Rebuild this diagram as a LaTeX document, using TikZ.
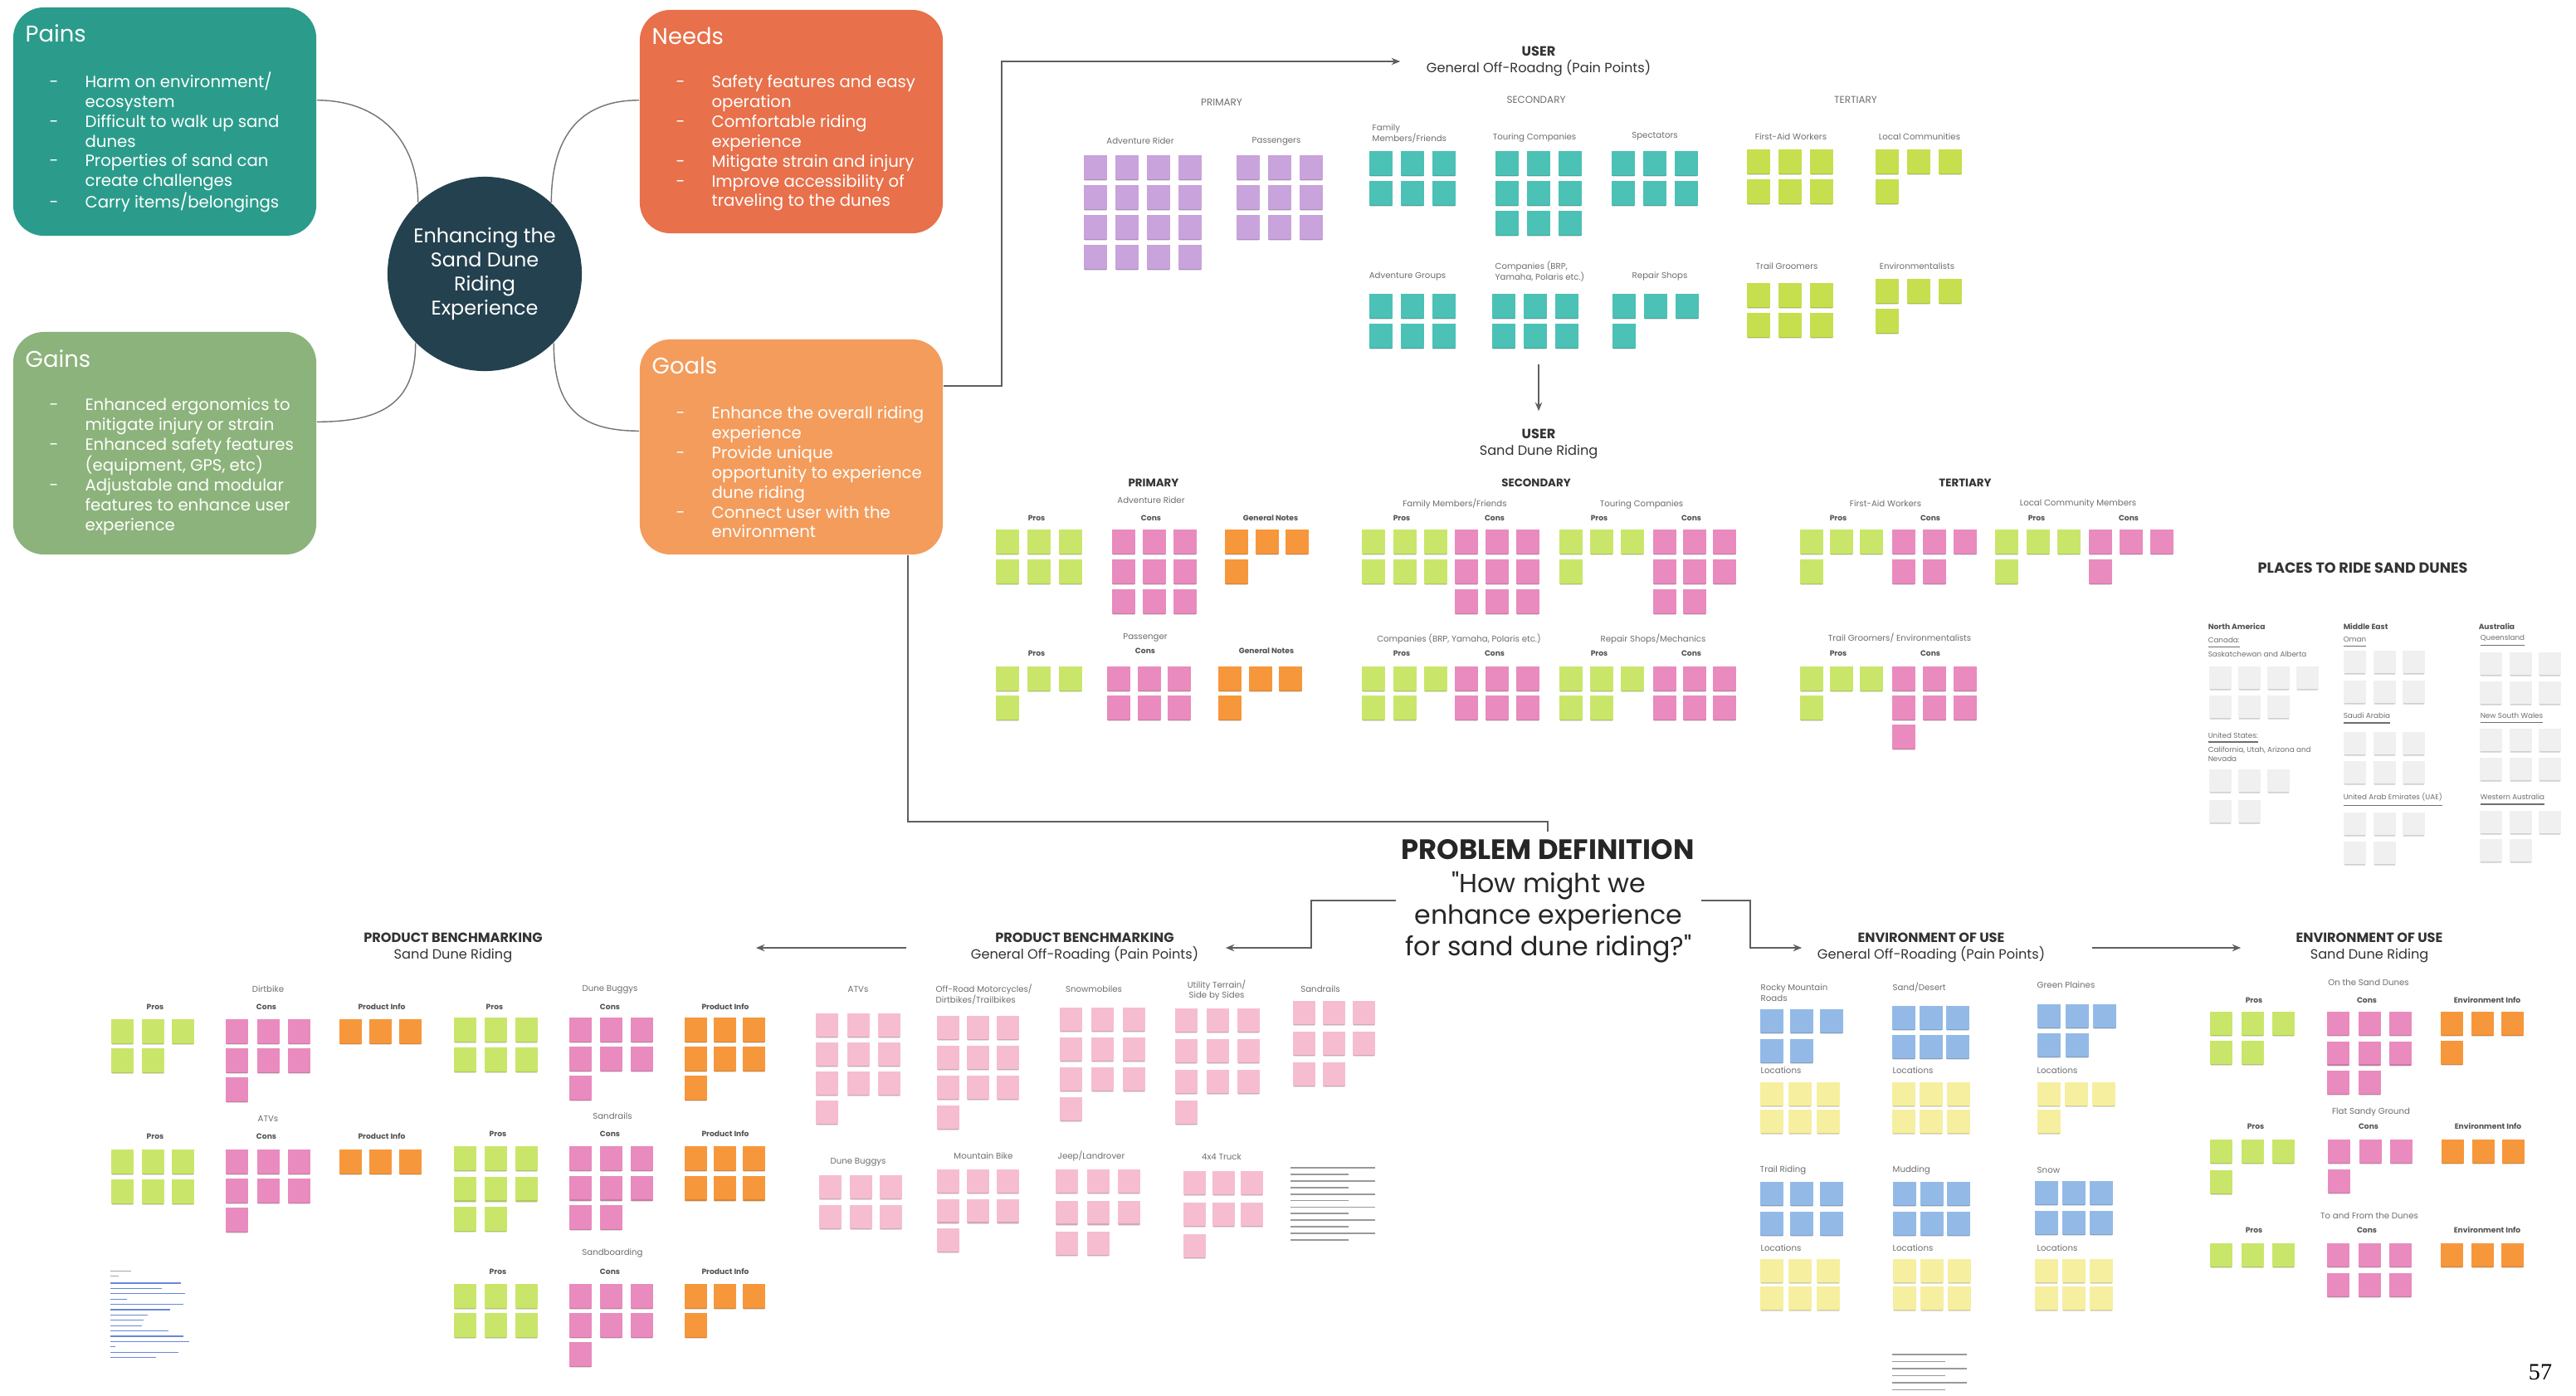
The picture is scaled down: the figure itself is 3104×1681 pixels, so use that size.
\documentclass[tikz,border=0pt]{standalone}
\usepackage{fontspec}
\setmainfont{Poppins}
\newfontfamily\numfont{Liberation Serif}
\usetikzlibrary{arrows.meta}
\newcommand\fs[2]{\fontsize{#1}{#2}\selectfont}
\newcommand\stkw{28}
\newcommand\stkh{30}
% sticky-note grid: x, y, row counts, fill style, column step, row step
\newcommand\stk[6]{%
  \foreach \nn [count=\rr from 0] in {#3}{%
    \foreach \cc in {1,...,\nn}{%
      \path[#4] ({#1+(\cc-1)*#5},{#2+\rr*#6}) rectangle ++(\stkw,\stkh);
      \path[fill=black,opacity=0.13] ({#1+(\cc-1)*#5+1},{#2+\rr*#6+\stkh-1.5}) rectangle ++(\stkw-2,2.5);
    }}}
\definecolor{cPains}{HTML}{2B9C8B}
\definecolor{cNeeds}{HTML}{E8704B}
\definecolor{cGoals}{HTML}{F39C5C}
\definecolor{cGains}{HTML}{8CB37B}
\definecolor{cHub}{HTML}{24414F}
\definecolor{nPurple}{HTML}{C9A3DB}
\definecolor{nTeal}{HTML}{4CC1B6}
\definecolor{nLime}{HTML}{C6DF4E}
\definecolor{nGreen}{HTML}{C9E66A}
\definecolor{nPink}{HTML}{E98BBE}
\definecolor{nLpink}{HTML}{F6BDD1}
\definecolor{nOrange}{HTML}{F7973B}
\definecolor{nBlue}{HTML}{93BAE7}
\definecolor{nYellow}{HTML}{F6EFA0}
\definecolor{nGray}{HTML}{F0F0F0}
\definecolor{cLine}{HTML}{5F5F5F}
\definecolor{tHead}{HTML}{333333}
\definecolor{tSub}{HTML}{6E6E6E}
\definecolor{cLink}{HTML}{6A88D8}
\begin{document}
\begin{tikzpicture}[x=0.01cm,y=-0.01cm,
  box/.style={rounded corners=10.5pt, inner sep=0, minimum width=3.65cm},
  btitle/.style={anchor=west, inner sep=0, text=white, font=\fs{7.8}{9}},
  blist/.style={anchor=north west, inner sep=0, text=white, font=\fs{5.6}{6.8}},
  curve/.style={draw=black!55, line width=0.4pt},
  ln/.style={draw=cLine, line width=0.45pt},
  arr/.style={ln, -{Stealth[length=3pt,width=2.4pt]}},
  hdr/.style={align=center, inner sep=0, text=tHead, font=\fs{4.6}{5.9}},
  lv/.style={font=\fs{3.4}{4}, text=tSub, inner sep=0},
  sb/.style={font=\fs{2.9}{3.6}, text=tSub, align=center, inner sep=0},
  sbl/.style={sb, anchor=west, align=left},
  lvb/.style={font=\bfseries\fs{3.8}{4.5}, text=tHead, inner sep=0},
  pc/.style={font=\bfseries\fs{2.6}{3}, text=tHead!85, inner sep=0},
  rg/.style={font=\bfseries\fs{2.6}{3}, text=tHead!85, inner sep=0, anchor=west},
  cty/.style={font=\fs{2.5}{3.2}, text=tSub, inner sep=0, anchor=west, align=left},
  gline/.style={draw=black!40, line width=0.5pt},
  link/.style={draw=cLink, line width=0.35pt}]
\useasboundingbox (0,0) rectangle (3104,1681);
\fill[white] (0,0) rectangle (3104,1681);

% ---------------- empathy boxes ----------------
\node[box, fill=cPains, minimum height=2.75cm] (pains) at (198.5,146.5) {};
\node[box, fill=cNeeds, minimum height=2.69cm] (needs) at (953.5,146.5) {};
\node[box, fill=cGains, minimum height=2.68cm] (gains) at (198.5,534) {};
\node[box, fill=cGoals, minimum height=2.59cm] (goals) at (953.5,538.5) {};
\node[btitle] (painsT) at (30,40) {Pains};
\node[btitle] (needsT) at (785,43) {Needs};
\node[btitle] (gainsT) at (30,432) {Gains};
\node[btitle] (goalsT) at (785,440) {Goals};
\node[blist] (painsL) at (59,86) {\begin{tabular}{@{}p{12.2pt}@{}l@{}}
-&Harm on environment/\\
&ecosystem\\
-&Difficult to walk up sand\\
&dunes\\
-&Properties of sand can\\
&create challenges\\
-&Carry items/belongings
\end{tabular}};
\node[blist] (needsL) at (814,88) {\begin{tabular}{@{}p{12.2pt}@{}l@{}}
-&Safety features and easy\\
&operation\\
-&Comfortable riding\\
&experience\\
-&Mitigate strain and injury\\
-&Improve accessibility of\\
&traveling to the dunes
\end{tabular}};
\node[blist] (gainsL) at (59,477) {\begin{tabular}{@{}p{12.2pt}@{}l@{}}
-&Enhanced ergonomics to\\
&mitigate injury or strain\\
-&Enhanced safety features\\
&(equipment, GPS, etc)\\
-&Adjustable and modular\\
&features to enhance user\\
&experience
\end{tabular}};
\node[blist] (goalsL) at (814,487) {\begin{tabular}{@{}p{12.2pt}@{}l@{}}
-&Enhance the overall riding\\
&experience\\
-&Provide unique\\
&opportunity to experience\\
&dune riding\\
-&Connect user with the\\
&environment
\end{tabular}};
\node[circle, fill=cHub, minimum size=2.34cm, inner sep=0, text=white, align=center, font=\fs{6.8}{8.2}] (hub) at (584,330) {Enhancing the\\Sand Dune\\Riding\\Experience};
\draw[curve] (pains.8.6) .. controls +(75,0) and +(0,-75) .. (hub.133);
\draw[curve] (needs.172) .. controls +(-75,0) and +(0,-75) .. (hub.47);
\draw[curve] (gains.8) .. controls +(75,0) and +(0,75) .. (hub.225);
\draw[curve] (goals.174) .. controls +(-75,0) and +(0,75) .. (hub.315);

% ---------------- USER: general off-roading ----------------
\node[hdr, font=\fs{4.6}{5.7}, minimum width=3.32cm] (u1) at (1854,74) {\textbf{USER}\\General Off-Roadng (Pain Points)};
\node[lv] (tPri) at (1472,123) {PRIMARY};
\node[lv] (tSec) at (1851,120) {SECONDARY};
\node[lv] (tTer) at (2236,120) {TERTIARY};
\node[sb] (tAR) at (1374,170) {Adventure Rider};
\node[sb] (tPa) at (1538,170) {Passengers};
\node[sbl] (tFa) at (1653,161) {Family\\Members/Friends};
\node[sb] (tTo) at (1849,166) {Touring Companies};
\node[sb] (tSp) at (1994,164) {Spectators};
\node[sb] (tFA) at (2158,165) {First-Aid Workers};
\node[sb] (tLC) at (2313,165) {Local Communities};
\node[sb] (tAG) at (1696,333) {Adventure Groups};
\node[sbl] (tCo) at (1801,327) {Companies (BRP,\\Yamaha, Polaris etc.)};
\node[sb] (tRS) at (2000,333) {Repair Shops};
\node[sb] (tTG) at (2153,321) {Trail Groomers};
\node[sb] (tEn) at (2310,321) {Environmentalists};
\renewcommand\stkw{28}\renewcommand\stkh{30}
\stk{1306}{187}{4,4,4,4}{fill=nPurple}{38}{36}
\stk{1490}{187}{3,3,3}{fill=nPurple}{38}{36}
\stk{1650}{182}{3,3}{fill=nTeal}{38}{36}
\stk{1802}{182}{3,3,3}{fill=nTeal}{38}{36}
\stk{1942}{182}{3,3}{fill=nTeal}{38}{36}
\stk{1650}{354}{3,3}{fill=nTeal}{38}{36}
\stk{1798}{354}{3,3}{fill=nTeal}{38}{36}
\stk{1943}{354}{3,1}{fill=nTeal}{38}{36}
\stk{2105}{180}{3,3}{fill=nLime}{38}{36}
\stk{2260}{180}{3,1}{fill=nLime}{38}{36}
\stk{2105}{341}{3,3}{fill=nLime}{38}{36}
\stk{2260}{336}{3,1}{fill=nLime}{38}{36}

% ---------------- USER: sand dune riding ----------------
\coordinate (usec) at (1854,439);
\node[hdr, font=\fs{4.6}{5.7}, minimum height=0.78cm] (u2) at (1854,535) {\textbf{USER}\\Sand Dune Riding};
\node[lvb] (sPri) at (1390,582) {PRIMARY};
\node[lvb] (sSec) at (1851,582) {SECONDARY};
\node[lvb] (sTer) at (2368,582) {TERTIARY};
\node[sb] (sAR) at (1387,603) {Adventure Rider};
\node[sb] (sFa) at (1753,607) {Family Members/Friends};
\node[sb] (sTo) at (1978,608) {Touring Companies};
\node[sb] (sFA) at (2272,607) {First-Aid Workers};
\node[sb] (sLC) at (2504,607) {Local Community Members};
\node[sb] (sPa) at (1380,768) {Passenger};
\node[sb] (sCo) at (1758,770) {Companies (BRP, Yamaha, Polaris etc.)};
\node[sb] (sRS) at (1992,770) {Repair Shops/Mechanics};
\node[sb] (sTG) at (2289,769) {Trail Groomers/ Environmentalists};
\foreach \x/\y/\t [count=\i] in {1249/624/Pros,1387/624/Cons,1531/624/General Notes,1689/624/Pros,1801/624/Cons,1927/624/Pros,2038/624/Cons,2215/624/Pros,2326/624/Cons,2454/624/Pros,2565/624/Cons,1249/787/Pros,1380/784/Cons,1526/784/General Notes,1689/787/Pros,1801/787/Cons,1927/787/Pros,2038/787/Cons,2215/787/Pros,2326/787/Cons}
  \node[pc] (pcA\i) at (\x,\y) {\t};
\stk{1200}{638}{3,3}{fill=nGreen}{38}{36}
\stk{1340}{638}{3,3,3}{fill=nPink}{37}{36}
\stk{1476}{638}{3,1}{fill=nOrange}{36.5}{36}
\stk{1641}{638}{3,3}{fill=nGreen}{37.5}{36}
\stk{1753}{638}{3,3,3}{fill=nPink}{37}{36}
\stk{1879}{638}{3,1}{fill=nGreen}{37}{36}
\stk{1992}{638}{3,3,2}{fill=nPink}{36}{36}
\stk{2169}{638}{3,1}{fill=nGreen}{36}{36}
\stk{2280}{638}{3,2}{fill=nPink}{37}{36}
\stk{2404}{638}{3,1}{fill=nGreen}{37.5}{36}
\stk{2517}{638}{3,1}{fill=nPink}{37}{36}
\stk{1200}{803}{3,1}{fill=nGreen}{38}{35}
\stk{1334}{803}{3,3}{fill=nPink}{36.5}{35}
\stk{1468}{803}{3,1}{fill=nOrange}{36.5}{35}
\stk{1641}{803}{3,2}{fill=nGreen}{37.5}{35}
\stk{1753}{803}{3,3}{fill=nPink}{37}{35}
\stk{1879}{803}{3,2}{fill=nGreen}{37}{35}
\stk{1992}{803}{3,3}{fill=nPink}{36}{35}
\stk{2169}{803}{3,1}{fill=nGreen}{36}{35}
\stk{2280}{803}{3,3,1}{fill=nPink}{37}{35}

% ---------------- PLACES TO RIDE SAND DUNES ----------------
\node[font=\bfseries\fs{5}{6}, text=tHead, inner sep=0] (plc) at (2847,684) {PLACES TO RIDE SAND DUNES};
\node[rg] (rNA) at (2660,755) {North America};
\node[rg] (rME) at (2823,755) {Middle East};
\node[rg] (rAU) at (2986,755) {Australia};
\node[cty] (cCa) at (2660,780) {\underline{Canada:}\\Saskatchewan and Alberta};
\node[cty] (cUS) at (2660,900) {\underline{United States:}\\California, Utah, Arizona and\\Nevada};
\node[cty] (cOm) at (2823,774) {\underline{Oman}};
\node[cty] (cSA) at (2823,866) {\underline{Saudi Arabia}};
\node[cty] (cUA) at (2823,964) {\underline{United Arab Emirates (UAE)}};
\node[cty] (cQu) at (2988,772) {\underline{Queensland}};
\node[cty] (cNS) at (2988,866) {\underline{New South Wales}};
\node[cty] (cWA) at (2988,964) {\underline{Western Australia}};
\renewcommand\stkw{27}\renewcommand\stkh{28}
\stk{2662}{803}{4,3}{fill=nGray}{35}{35}
\stk{2662}{927}{3,2}{fill=nGray}{35}{37}
\stk{2824}{784}{3,3}{fill=nGray}{35.5}{36}
\stk{2824}{882}{3,3}{fill=nGray}{35.5}{35}
\stk{2824}{979}{3,2}{fill=nGray}{35.5}{35}
\stk{2988}{786}{3,3}{fill=nGray}{35.5}{35}
\stk{2988}{878}{3,3}{fill=nGray}{35.5}{35}
\stk{2988}{977}{3,2}{fill=nGray}{35.5}{34}

% ---------------- PROBLEM DEFINITION ----------------
\node[font=\bfseries\fs{9.6}{11}, text=black!85, minimum height=0.42cm, inner sep=0] (pdt) at (1865,1024) {PROBLEM DEFINITION};
\node[align=center, font=\fs{9}{10.8}, text=black!85, minimum width=3.66cm, inner sep=0] (pdq) at (1866,1105) {\textquotedbl How might we\\enhance experience\\for sand dune riding?\textquotedbl};

% ---------------- PRODUCT BENCHMARKING: general ----------------
\node[hdr, minimum width=3.38cm] (pb1) at (1307,1142) {\textbf{PRODUCT BENCHMARKING}\\General Off-Roading (Pain Points)};
\node[sb] (gAT) at (1034,1192) {ATVs};
\node[sbl] (gOR) at (1127,1198) {Off-Road Motorcycles/\\Dirtbikes/Trailbikes};
\node[sb] (gSn) at (1318,1192) {Snowmobiles};
\node[sb] (gUT) at (1466,1193) {Utility Terrain/\\Side by Sides};
\node[sb] (gSR) at (1591,1192) {Sandrails};
\node[sb] (gDB) at (1034,1400) {Dune Buggys};
\node[sb] (gMB) at (1185,1393) {Mountain Bike};
\node[sb] (gJL) at (1315,1393) {Jeep/Landrover};
\node[sb] (gTr) at (1472,1394) {4x4 Truck};
\renewcommand\stkw{27}\renewcommand\stkh{29}
\stk{983}{1221}{3,3,3,1}{fill=nLpink}{37.5}{35}
\stk{1129}{1224}{3,3,3,1}{fill=nLpink}{36}{36}
\stk{1277}{1214}{3,3,3,1}{fill=nLpink}{38}{36}
\stk{1416}{1215}{3,3,3,1}{fill=nLpink}{37.5}{37}
\stk{1558}{1206}{3,3,2}{fill=nLpink}{36}{37}
\stk{987}{1416}{3,3}{fill=nLpink}{36.5}{36}
\stk{1129}{1409}{3,3,1}{fill=nLpink}{36}{35.5}
\stk{1272}{1409}{3,3,2}{fill=nLpink}{37.5}{37.5}
\stk{1426}{1411}{3,3,1}{fill=nLpink}{34.5}{38}
\foreach \k in {0,...,11}
  \draw[gline] (1555,{1407+\k*7.9}) -- ++({ifthenelse(mod(\k,2)==0,102,70)},0);

% ---------------- PRODUCT BENCHMARKING: sand dune ----------------
\node[hdr, minimum width=7.28cm] (pb2) at (546,1142) {\textbf{PRODUCT BENCHMARKING}\\Sand Dune Riding};
\node[sb] (bDi) at (323,1192) {Dirtbike};
\node[sb] (bDB) at (735,1192) {Dune Buggys};
\node[sb] (bAT) at (323,1348) {ATVs};
\node[sb] (bSR) at (738,1345) {Sandrails};
\node[sb] (bSB) at (738,1510) {Sandboarding};
\foreach \x/\y/\t [count=\i] in {187/1213/Pros,321/1213/Cons,460/1213/Product Info,596/1213/Pros,735/1213/Cons,874/1213/Product Info,187/1369/Pros,321/1369/Cons,460/1369/Product Info,600/1366/Pros,735/1366/Cons,874/1366/Product Info,600/1532/Pros,735/1532/Cons,874/1532/Product Info}
  \node[pc] (pcB\i) at (\x,\y) {\t};
\renewcommand\stkw{27}\renewcommand\stkh{30}
\stk{134}{1228}{3,2}{fill=nGreen}{36.5}{35}
\stk{272}{1228}{3,3,1}{fill=nPink}{37.5}{35}
\stk{409}{1228}{3}{fill=nOrange}{36}{35}
\stk{547}{1226}{3,3}{fill=nGreen}{37}{36}
\stk{686}{1226}{3,3,1}{fill=nPink}{37}{35}
\stk{825}{1226}{3,3,1}{fill=nOrange}{35}{35}
\stk{134}{1385}{3,3}{fill=nGreen}{36.5}{36}
\stk{272}{1385}{3,3,1}{fill=nPink}{37.5}{35}
\stk{409}{1385}{3}{fill=nOrange}{36}{35}
\stk{547}{1381}{3,3,2}{fill=nGreen}{37}{36.5}
\stk{686}{1381}{3,3,2}{fill=nPink}{37}{35.5}
\stk{825}{1381}{3,3}{fill=nOrange}{35}{35.5}
\stk{547}{1547}{3,3}{fill=nGreen}{37}{35}
\stk{686}{1547}{3,3,1}{fill=nPink}{37}{35}
\stk{825}{1547}{3,1}{fill=nOrange}{35}{35}
\draw[draw=black!35, line width=0.3pt] (133,1531) -- ++(25,0);
\draw[draw=black!35, line width=0.3pt] (133,1537) -- ++(10,0);
\foreach \L [count=\k from 0] in {85,62,90,20,88,72,45,40,38,70,88,95,6,82,55}
  \draw[link] (133,{1546+\k*6.4}) -- ++(\L,0);

% ---------------- ENVIRONMENT OF USE: general ----------------
\node[hdr, minimum width=3.10cm] (env1) at (2327,1142) {\textbf{ENVIRONMENT OF USE}\\General Off-Roading (Pain Points)};
\node[sbl] (eRM) at (2121,1196) {Rocky Mountain\\Roads};
\node[sbl] (eSD) at (2280,1190) {Sand/Desert};
\node[sbl] (eGP) at (2454,1187) {Green Plaines};
\node[sbl] (eL1) at (2121,1290) {Locations};
\node[sbl] (eL2) at (2280,1290) {Locations};
\node[sbl] (eL3) at (2454,1290) {Locations};
\node[sbl] (eTR) at (2120,1410) {Trail Riding};
\node[sbl] (eMu) at (2280,1410) {Mudding};
\node[sbl] (eSn) at (2454,1410) {Snow};
\node[sbl] (eL4) at (2121,1504) {Locations};
\node[sbl] (eL5) at (2280,1504) {Locations};
\node[sbl] (eL6) at (2454,1504) {Locations};
\renewcommand\stkw{28}\renewcommand\stkh{29}
\stk{2121}{1216}{3,2}{fill=nBlue}{36}{36}
\stk{2280}{1212}{3,3}{fill=nBlue}{32.5}{35}
\stk{2455}{1210}{3,2}{fill=nBlue}{33.5}{35}
\stk{2121}{1304}{3,3}{fill=nYellow}{34}{33}
\stk{2280}{1304}{3,3}{fill=nYellow}{33}{33}
\stk{2455}{1304}{3,1}{fill=nYellow}{33}{33}
\stk{2121}{1424}{3,3}{fill=nBlue}{36}{36}
\stk{2281}{1424}{3,3}{fill=nBlue}{32.5}{36}
\stk{2452}{1423}{3,3}{fill=nBlue}{33}{36}
\stk{2121}{1517}{3,3}{fill=nYellow}{34}{33}
\stk{2281}{1517}{3,3}{fill=nYellow}{33}{33}
\stk{2452}{1517}{3,3}{fill=nYellow}{33}{33}
\foreach \k in {0,...,5}
  \draw[gline] (2280,{1632+\k*8.5}) -- ++({ifthenelse(mod(\k,2)==0,90,64)},0);

% ---------------- ENVIRONMENT OF USE: sand dune ----------------
\node[hdr, minimum width=3.08cm] (env2) at (2855,1142) {\textbf{ENVIRONMENT OF USE}\\Sand Dune Riding};
\node[sb] (dOS) at (2854,1184) {On the Sand Dunes};
\node[sb] (dFS) at (2857,1340) {Flat Sandy Ground};
\node[sb] (dTF) at (2855,1465) {To and From the Dunes};
\foreach \x/\y/\t [count=\i] in {2716/1205/Pros,2852/1205/Cons,2997/1205/Environment Info,2718/1357/Pros,2854/1357/Cons,2998/1357/Environment Info,2716/1482/Pros,2852/1482/Cons,2997/1482/Environment Info}
  \node[pc] (pcC\i) at (\x,\y) {\t};
\renewcommand\stkw{27}\renewcommand\stkh{29}
\stk{2663}{1219}{3,2}{fill=nGreen}{37.5}{35}
\stk{2804}{1219}{3,3,2}{fill=nPink}{37.5}{35.5}
\stk{2941}{1219}{3,1}{fill=nOrange}{36.5}{35}
\stk{2663}{1373}{3,1}{fill=nGreen}{37.5}{37}
\stk{2805}{1373}{3,1}{fill=nPink}{37.5}{36}
\stk{2942}{1373}{3}{fill=nOrange}{36.5}{35}
\stk{2663}{1498}{3}{fill=nGreen}{37.5}{35}
\stk{2804}{1498}{3,3}{fill=nPink}{37.5}{36}
\stk{2941}{1498}{3}{fill=nOrange}{36.5}{35}

% ---------------- connectors ----------------
\draw[arr] ([yshift=20.9pt]goals.east) -| (1207,74) -- (u1.west);
\draw[arr] (usec) -- (u2.north);
\draw[ln] ([xshift=-12.2pt]goals.south east) |- (1865,990) -- (pdt.north);
\draw[arr] ([yshift=5.7pt]pdq.west) -| (1580,1142) -- (pb1.east);
\draw[arr] ([yshift=5.7pt]pdq.east) -| (2109,1142) -- (env1.west);
\draw[arr, shorten <=10.8pt] (env1.east) -- (env2.west);
\draw[arr] ([xshift=-13pt]pb1.west) -- (pb2.east);

\node[font=\numfont\fs{8}{9}, inner sep=0] (pg) at (3061,1653) {57};
\end{tikzpicture}
\end{document}
